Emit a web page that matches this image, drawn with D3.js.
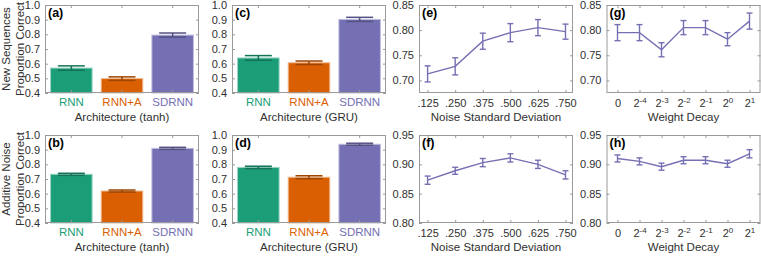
<!DOCTYPE html>
<html>
<head>
<meta charset="utf-8">
<script src="https://cdn.jsdelivr.net/npm/d3@7"></script>
<style>
  html, body { margin: 0; padding: 0; background: #fff; }
  svg { display: block; font-family: "Liberation Sans", Arial, sans-serif; }
</style>
</head>
<body>
<svg id="chart" width="761" height="257"></svg>
<script>
// ---- data ----
const archCats = ["RNN", "RNN+A", "SDRNN"];

const tanhNewMean = [0.570, 0.498, 0.795];
const tanhNewErr = [0.015, 0.012, 0.014];
const gruNewMean = [0.639, 0.606, 0.902];
const gruNewErr = [0.016, 0.012, 0.014];

const tanhNoiseMean = [0.732, 0.618, 0.909];
const tanhNoiseErr = [0.007, 0.007, 0.007];
const gruNoiseMean = [0.779, 0.712, 0.937];
const gruNoiseErr = [0.008, 0.010, 0.007];

const noiseStd = [0.125, 0.25, 0.375, 0.5, 0.625, 0.75];
const noiseStdLabels = [".125", ".250", ".375", ".500", ".625", ".750"];
const noiseNewMean = [0.713, 0.728, 0.778, 0.795, 0.805, 0.797];
const noiseNewErr = [0.016, 0.017, 0.016, 0.018, 0.016, 0.015];
const noiseAddMean = [0.873, 0.889, 0.903, 0.911, 0.900, 0.882];
const noiseAddErr = [0.007, 0.006, 0.007, 0.007, 0.007, 0.007];

const decayExp = [null, -4, -3, -2, -1, 0, 1];  // null -> "0"
const decayNewMean = [0.795, 0.795, 0.761, 0.805, 0.805, 0.782, 0.818];
const decayNewErr = [0.016, 0.016, 0.014, 0.014, 0.014, 0.013, 0.016];
const decayAddMean = [0.910, 0.905, 0.896, 0.907, 0.907, 0.901, 0.918];
const decayAddErr = [0.006, 0.006, 0.006, 0.006, 0.006, 0.006, 0.007];

const barTicks = [0.4, 0.5, 0.6, 0.7, 0.8, 0.9, 1.0];
const newLineTicks = [0.70, 0.75, 0.80, 0.85];
const addLineTicks = [0.80, 0.85, 0.90, 0.95];

// ---- styling ----
const archColors = ["#1b9e77", "#d95f02", "#7570b3"];
const lineColor = "#7570b3";
const textColor = "#303030";
const boxColor = "#9a9a9a";

const svg = d3.select("#chart");

const cols = [45, 232, 419, 606.5];
const panelW = 154;
const rows = [{ top: 5, bottom: 93 }, { top: 135, bottom: 223 }];

function styleAxis(g) {
  g.select(".domain").remove();
  g.selectAll(".tick line").attr("stroke", boxColor);
  g.selectAll(".tick text").attr("fill", textColor);
}

function frame(g, w, h, tag, xlabel) {
  g.append("rect")
    .attr("x", 0.5).attr("y", 0.5)
    .attr("width", w - 1).attr("height", h - 1)
    .attr("fill", "none").attr("stroke", boxColor);
  g.append("text")
    .attr("x", 3).attr("y", 12)
    .attr("font-size", 12.5).attr("font-weight", "bold")
    .attr("fill", "#000")
    .text(tag);
  g.append("text")
    .attr("x", w / 2).attr("y", h + 28)
    .attr("text-anchor", "middle")
    .attr("font-size", 11.5).attr("fill", textColor)
    .text(xlabel);
}

function yAxes(g, y, w, ticks, fmt) {
  g.append("g")
    .call(d3.axisLeft(y).tickValues(ticks).tickFormat(d3.format(fmt))
      .tickSizeInner(-3).tickSizeOuter(0).tickPadding(5))
    .attr("font-size", 11).attr("font-family", null)
    .call(styleAxis);
  g.append("g")
    .attr("transform", `translate(${w},0)`)
    .call(d3.axisRight(y).tickValues(ticks).tickFormat("")
      .tickSizeInner(-3).tickSizeOuter(0))
    .call(styleAxis);
}

function barPanel(col, row, means, errs, xlabel, tag) {
  const x0 = cols[col], r = rows[row];
  const h = r.bottom - r.top;
  const g = svg.append("g").attr("transform", `translate(${x0},${r.top})`);

  const x = d3.scaleBand().domain(archCats).range([0, panelW])
    .paddingInner(0.18).paddingOuter(0.11);
  const y = d3.scaleLinear().domain([0.4, 1.0]).range([h, 0]);

  g.selectAll("rect.bar")
    .data(archCats)
    .join("rect")
    .attr("class", "bar")
    .attr("x", d => x(d))
    .attr("y", (d, i) => y(means[i]))
    .attr("width", x.bandwidth())
    .attr("height", (d, i) => h - y(means[i]))
    .attr("fill", (d, i) => archColors[i])
    .attr("stroke", (d, i) => d3.interpolateRgb(archColors[i], "#fff")(0.55))
    .attr("stroke-width", 1);

  const capW = 27;
  const eb = g.selectAll("g.err")
    .data(archCats)
    .join("g")
    .attr("class", "err")
    .attr("stroke", (d, i) => d3.color(archColors[i]).darker(0.9))
    .attr("stroke-width", 1.5);
  eb.append("line")
    .attr("x1", d => x(d) + x.bandwidth() / 2).attr("x2", d => x(d) + x.bandwidth() / 2)
    .attr("y1", (d, i) => y(means[i] - errs[i])).attr("y2", (d, i) => y(means[i] + errs[i]));
  eb.append("line")
    .attr("x1", d => x(d) + x.bandwidth() / 2 - capW / 2).attr("x2", d => x(d) + x.bandwidth() / 2 + capW / 2)
    .attr("y1", (d, i) => y(means[i] - errs[i])).attr("y2", (d, i) => y(means[i] - errs[i]));
  eb.append("line")
    .attr("x1", d => x(d) + x.bandwidth() / 2 - capW / 2).attr("x2", d => x(d) + x.bandwidth() / 2 + capW / 2)
    .attr("y1", (d, i) => y(means[i] + errs[i])).attr("y2", (d, i) => y(means[i] + errs[i]));

  frame(g, panelW, h, tag, xlabel);
  yAxes(g, y, panelW, barTicks, ".1f");

  const xb = g.append("g")
    .attr("transform", `translate(0,${h})`)
    .call(d3.axisBottom(x).tickSizeInner(-3).tickSizeOuter(0).tickPadding(5))
    .attr("font-size", 11.5).attr("font-family", null)
    .call(styleAxis);
  xb.selectAll(".tick text").attr("fill", (d, i) => archColors[i]);
  g.append("g")
    .call(d3.axisTop(x).tickFormat("").tickSizeInner(-3).tickSizeOuter(0))
    .call(styleAxis);
}

function linePanel(col, row, xs, means, errs, yDomain, yTicks, kind, xlabel, tag) {
  const x0 = cols[col], r = rows[row];
  const h = r.bottom - r.top;
  const g = svg.append("g").attr("transform", `translate(${x0},${r.top})`);

  let x, xTickVals;
  if (kind === "noise") {
    x = d3.scaleLinear().domain([0.086, 0.784]).range([0, panelW]);
    xTickVals = xs;
  } else {
    x = d3.scalePoint().domain(xs.map((d, i) => i)).range([0, panelW]).padding(0.5);
    xTickVals = xs.map((d, i) => i);
  }
  const y = d3.scaleLinear().domain(yDomain).range([h, 0]);
  const px = (d, i) => kind === "noise" ? x(xs[i]) : x(i);

  frame(g, panelW, h, tag, xlabel);
  yAxes(g, y, panelW, yTicks, ".2f");

  const xb = g.append("g")
    .attr("transform", `translate(0,${h})`)
    .call(d3.axisBottom(x).tickValues(xTickVals)
      .tickFormat(kind === "noise" ? (d, i) => noiseStdLabels[i] : "")
      .tickSizeInner(-3).tickSizeOuter(0).tickPadding(6))
    .attr("font-size", 11).attr("font-family", null)
    .call(styleAxis);
  if (kind === "decay") {
    xb.selectAll(".tick text").each(function (d, i) {
      const t = d3.select(this).attr("dy", "0.71em");
      const e = decayExp[i];
      if (e === null) { t.text("0"); return; }
      t.append("tspan").text("2");
      t.append("tspan").attr("dy", "-0.45em").attr("font-size", 8).text(e);
    });
  }
  g.append("g")
    .call(d3.axisTop(x).tickValues(xTickVals).tickFormat("").tickSizeInner(-3).tickSizeOuter(0))
    .call(styleAxis);

  const line = d3.line().x(px).y(d => y(d));
  g.append("path")
    .datum(means)
    .attr("d", line)
    .attr("fill", "none")
    .attr("stroke", lineColor)
    .attr("stroke-width", 1.4);

  const capW = 6;
  const eb = g.selectAll("g.err")
    .data(means)
    .join("g")
    .attr("class", "err")
    .attr("stroke", lineColor)
    .attr("stroke-width", 1.4);
  eb.append("line")
    .attr("x1", px).attr("x2", px)
    .attr("y1", (d, i) => y(d - errs[i])).attr("y2", (d, i) => y(d + errs[i]));
  eb.append("line")
    .attr("x1", (d, i) => px(d, i) - capW / 2).attr("x2", (d, i) => px(d, i) + capW / 2)
    .attr("y1", (d, i) => y(d - errs[i])).attr("y2", (d, i) => y(d - errs[i]));
  eb.append("line")
    .attr("x1", (d, i) => px(d, i) - capW / 2).attr("x2", (d, i) => px(d, i) + capW / 2)
    .attr("y1", (d, i) => y(d + errs[i])).attr("y2", (d, i) => y(d + errs[i]));
}

barPanel(0, 0, tanhNewMean, tanhNewErr, "Architecture (tanh)", "(a)");
barPanel(1, 0, gruNewMean, gruNewErr, "Architecture (GRU)", "(c)");
barPanel(0, 1, tanhNoiseMean, tanhNoiseErr, "Architecture (tanh)", "(b)");
barPanel(1, 1, gruNoiseMean, gruNoiseErr, "Architecture (GRU)", "(d)");

linePanel(2, 0, noiseStd, noiseNewMean, noiseNewErr, [0.675, 0.85], newLineTicks, "noise", "Noise Standard Deviation", "(e)");
linePanel(2, 1, noiseStd, noiseAddMean, noiseAddErr, [0.80, 0.95], addLineTicks, "noise", "Noise Standard Deviation", "(f)");
linePanel(3, 0, decayExp, decayNewMean, decayNewErr, [0.675, 0.85], newLineTicks, "decay", "Weight Decay", "(g)");
linePanel(3, 1, decayExp, decayAddMean, decayAddErr, [0.80, 0.95], addLineTicks, "decay", "Weight Decay", "(h)");

// row titles on the left
const rowTitles = [["New Sequences", "Proportion Correct"], ["Additive Noise", "Proportion Correct"]];
rows.forEach((r, k) => {
  const cy = (r.top + r.bottom) / 2;
  rowTitles[k].forEach((t, j) => {
    svg.append("text")
      .attr("transform", `translate(${10 + j * 13.5},${cy}) rotate(-90)`)
      .attr("text-anchor", "middle")
      .attr("font-size", 11.5).attr("fill", textColor)
      .text(t);
  });
});
</script>
</body>
</html>
